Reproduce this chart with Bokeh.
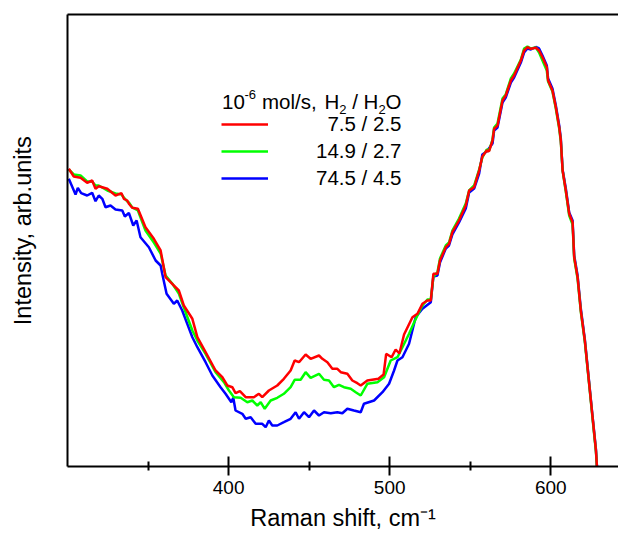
import math
from bokeh.plotting import figure
from bokeh.models import Range1d, FixedTicker, LinearAxis, Label, Legend, LegendItem
from bokeh.embed import file_html
from bokeh.resources import INLINE

FONT = "Liberation Sans"

# ---- data (Raman shift, cm-1 / intensity, arb. units) ----
x_red = [300.8, 303.9, 308.1, 312.2, 315.3, 317.4, 319.4, 324.7, 329.8, 333.5,
         335.0, 337.1, 338.1, 340.2, 343.7, 348.4, 353.6, 357.8, 360.9, 365.0,
         369.1, 372.2, 377.5, 380.6, 385.7, 391.9, 396.1, 399.2, 402.3, 404.3,
         407.0, 410.6, 415.7, 418.8, 420.9, 425.0, 430.2, 434.3, 438.5, 441.0,
         443.7, 447.8, 450.9, 456.1, 458.2, 461.3, 464.4, 467.5, 469.6, 473.7,
         476.8, 479.9, 482.0, 486.1, 493.0, 496.2, 497.8, 501.2, 503.7, 506.0,
         508.9, 514.1, 517.2, 520.3, 523.4, 525.5, 527.1, 529.6, 531.2, 534.8,
         536.8, 538.9, 543.0, 547.2, 549.3, 552.4, 555.5, 557.5, 560.2, 561.7,
         563.8, 564.8, 566.9, 570.0, 572.0, 575.2, 577.2, 581.4, 583.4, 585.5,
         587.6, 590.7, 592.7, 594.8, 597.5, 598.3, 601.0, 603.1, 605.2, 606.2,
         607.3, 609.3, 611.4, 613.5, 614.5, 616.6, 618.6, 621.1, 623.8, 625.9,
         628.0, 628.6, 629.2]
i_red = [297.7, 290.0, 288.7, 283.7, 286.0, 277.7, 280.3, 277.7, 271.0, 273.3,
         267.7, 266.0, 262.7, 258.7, 257.7, 239.3, 227.7, 216.0, 189.3, 182.7,
         176.0, 161.0, 147.7, 129.3, 114.3, 96.0, 89.3, 81.0, 79.3, 73.3,
         75.3, 69.3, 69.3, 72.7, 69.3, 76.0, 81.0, 87.7, 96.0, 106.0,
         104.3, 112.0, 107.7, 111.0, 107.7, 104.3, 97.7, 97.7, 94.3, 92.7,
         86.0, 83.3, 81.0, 86.0, 87.7, 92.0, 112.7, 109.3, 117.0, 113.0,
         132.0, 149.3, 152.7, 162.7, 166.0, 166.0, 192.7, 192.7, 206.0, 219.3,
         222.7, 234.3, 246.0, 261.0, 276.0, 279.3, 296.0, 310.0, 316.0, 315.3,
         326.0, 337.7, 341.0, 366.0, 371.0, 386.0, 391.0, 406.0, 416.0, 419.3,
         417.7, 418.7, 416.0, 409.3, 399.3, 386.0, 376.0, 359.3, 339.3, 326.0,
         296.0, 276.0, 252.7, 244.3, 209.3, 189.3, 156.0, 126.0, 82.7, 49.3,
         16.0, 0.3, -8.0]

x_green = [300.8, 303.9, 308.1, 312.2, 315.3, 317.4, 319.4, 324.7, 329.8, 333.5,
           335.0, 337.1, 338.1, 340.2, 343.7, 348.4, 353.6, 357.8, 360.9, 365.0,
           369.1, 372.2, 377.5, 380.6, 385.7, 391.9, 397.1, 400.2, 403.3, 407.5,
           411.6, 414.7, 417.8, 419.9, 422.4, 426.1, 430.2, 434.3, 438.5, 441.0,
           444.7, 447.8, 450.9, 456.1, 459.2, 462.3, 465.4, 468.5, 471.6, 475.8,
           478.9, 482.0, 486.1, 492.4, 496.5, 500.6, 504.8, 507.9, 512.0, 515.2,
           517.2, 520.3, 523.4, 525.5, 527.1, 529.6, 531.2, 534.8, 536.8, 538.9,
           543.0, 547.2, 549.3, 552.4, 555.5, 557.5, 560.2, 561.7, 563.8, 564.8,
           566.9, 570.0, 572.0, 575.2, 577.2, 581.4, 583.4, 585.5, 587.6, 590.7,
           592.7, 594.8, 597.5, 598.3, 601.0, 603.1, 605.2, 606.2, 607.3, 609.3,
           611.4, 613.5, 614.5, 616.6, 618.6, 621.1, 623.8, 625.9, 628.0, 628.6,
           629.2]
i_green = [297.0, 292.0, 291.0, 285.0, 285.0, 281.0, 281.0, 276.0, 273.0, 272.0,
           269.0, 265.0, 264.0, 259.0, 256.0, 236.0, 224.0, 213.0, 191.0, 183.0,
           173.0, 159.0, 136.0, 126.0, 112.7, 94.3, 84.3, 76.0, 69.3, 68.7,
           64.3, 66.0, 61.0, 64.3, 57.7, 66.0, 68.7, 72.7, 79.3, 86.7,
           86.7, 94.3, 88.7, 92.7, 86.7, 86.0, 79.3, 81.7, 79.3, 77.7,
           74.3, 71.0, 82.7, 84.3, 89.3, 106.0, 109.3, 119.3, 132.7, 144.3,
           151.0, 161.0, 167.0, 167.0, 190.0, 194.0, 208.0, 221.0, 224.0, 236.0,
           248.0, 263.0, 276.0, 281.0, 297.0, 309.0, 317.0, 316.0, 327.0, 339.0,
           343.0, 368.0, 372.0, 388.0, 393.0, 407.0, 418.0, 420.0, 418.0, 419.0,
           414.0, 406.0, 396.0, 385.0, 375.0, 358.0, 338.0, 325.0, 296.0, 275.0,
           251.0, 242.0, 208.0, 188.0, 155.0, 125.0, 82.0, 48.0, 15.0, 0.0,
           -8.0]

x_blue = [300.8, 305.0, 306.4, 308.5, 312.2, 315.3, 317.4, 319.4, 321.6, 323.6,
          326.7, 329.8, 334.0, 335.6, 338.1, 340.8, 342.9, 345.3, 350.5, 354.7,
          357.8, 358.8, 361.5, 366.0, 368.1, 371.2, 377.5, 380.6, 385.7, 389.9,
          395.0, 398.1, 401.7, 402.9, 404.3, 408.5, 410.6, 413.7, 416.8, 420.9,
          423.0, 425.0, 427.1, 430.2, 434.3, 438.5, 441.6, 443.7, 446.8, 449.9,
          453.0, 456.1, 459.2, 463.4, 467.5, 470.6, 473.7, 477.8, 482.0, 484.0,
          490.3, 495.5, 499.6, 502.7, 504.8, 507.9, 512.0, 516.1, 520.3, 525.5,
          527.1, 529.6, 531.2, 534.8, 536.8, 538.9, 543.0, 547.2, 549.3, 552.4,
          555.5, 557.5, 560.2, 563.8, 564.8, 566.9, 570.0, 572.0, 575.2, 577.2,
          581.4, 583.4, 585.5, 587.6, 590.7, 592.7, 594.8, 597.5, 598.3, 601.0,
          603.1, 605.2, 606.2, 607.3, 609.3, 611.4, 613.5, 614.5, 616.6, 618.6,
          621.1, 623.8, 625.9, 628.0, 628.6, 629.2]
i_blue = [287.7, 272.0, 278.7, 273.3, 271.0, 273.7, 265.3, 271.0, 267.7, 259.3,
          261.0, 257.0, 256.0, 250.0, 253.7, 241.0, 246.0, 229.3, 219.3, 206.0,
          201.0, 192.7, 172.7, 162.7, 166.0, 156.0, 129.3, 119.3, 104.3, 91.0,
          79.3, 72.7, 64.3, 68.7, 56.0, 52.7, 47.7, 49.3, 42.7, 42.7,
          39.3, 46.0, 41.0, 41.0, 44.3, 47.7, 54.3, 47.7, 54.3, 49.3,
          56.0, 51.0, 54.3, 53.3, 54.3, 53.3, 57.7, 56.0, 54.3, 62.7,
          66.0, 74.3, 82.7, 96.0, 106.0, 109.3, 122.7, 149.3, 157.7, 164.3,
          190.0, 191.0, 204.0, 218.0, 221.0, 232.0, 244.0, 258.0, 274.0, 278.0,
          293.0, 312.0, 315.0, 323.0, 336.0, 339.0, 364.0, 369.0, 384.0, 389.0,
          404.0, 414.0, 418.0, 417.0, 419.5, 418.0, 411.0, 401.0, 388.0, 378.0,
          361.0, 341.0, 328.0, 297.0, 278.0, 254.0, 246.0, 211.0, 191.0, 158.0,
          127.0, 84.0, 50.0, 17.0, 1.0, -8.0]

series_labels = ["\u20077.5 / 2.5", "14.9 / 2.7", "74.5 / 4.5"]
tick_values = [400, 500, 600]
minor_tick_values = [350, 450, 550]
x_title = "Raman shift, cm\u207b\u00b9"
y_title = "\u00a0\u00a0\u00a0Intensity, arb.units"

# ---- layout constants (canvas px) ----
FL, FT, FB = 67, 14, 466

p = figure(width=618, height=534, output_backend="svg", toolbar_location=None,
           tools="", x_range=Range1d(300, 642), y_range=Range1d(0, FB - FT),
           min_border_left=FL, min_border_right=0, min_border_top=FT,
           min_border_bottom=534 - FB)
p.grid.visible = False
p.outline_line_color = None
p.background_fill_color = "white"
p.border_fill_color = "white"

xa = p.xaxis[0]
xa.ticker = FixedTicker(ticks=tick_values, minor_ticks=minor_tick_values)
xa.axis_line_width = 2
xa.axis_line_color = "black"
xa.major_tick_line_width = 2
xa.minor_tick_line_width = 2
xa.major_tick_in = 10
xa.major_tick_out = 9
xa.minor_tick_in = 5
xa.minor_tick_out = 4
xa.major_label_text_font = FONT
xa.major_label_text_font_size = "19px"
xa.major_label_text_color = "black"
xa.major_label_standoff = 5
xa.axis_label = x_title
xa.axis_label_text_font = FONT
xa.axis_label_text_font_size = "23.5px"
xa.axis_label_text_font_style = "normal"
xa.axis_label_text_color = "black"
xa.axis_label_standoff = 8

ya = p.yaxis[0]
ya.ticker = FixedTicker(ticks=[])
ya.axis_line_width = 2
ya.axis_line_color = "black"
ya.major_tick_in = 0
ya.major_tick_out = 0
ya.minor_tick_in = 0
ya.minor_tick_out = 0
ya.major_label_text_font_size = "0px"
ya.axis_label = y_title
ya.axis_label_text_font = FONT
ya.axis_label_text_font_size = "23.5px"
ya.axis_label_text_font_style = "normal"
ya.axis_label_text_color = "black"
ya.axis_label_standoff = 32

top = LinearAxis(ticker=FixedTicker(ticks=[]), axis_line_width=2,
                 axis_line_color="black", major_tick_in=0, major_tick_out=0,
                 minor_tick_in=0, minor_tick_out=0,
                 major_label_text_font_size="0px")
p.add_layout(top, "above")

r_blue = p.line(x_blue, i_blue, line_color="#0000FF", line_width=2.5)
r_green = p.line(x_green, i_green, line_color="#00FF00", line_width=2.5)
r_red = p.line(x_red, i_red, line_color="#FF0000", line_width=2.5)

legend = Legend(items=[LegendItem(label=series_labels[0], renderers=[r_red]),
                       LegendItem(label=series_labels[1], renderers=[r_green]),
                       LegendItem(label=series_labels[2], renderers=[r_blue])],
                location=(221 - FL, FB - 190), padding=0, margin=0, spacing=3,
                glyph_width=47, glyph_height=20, label_height=20,
                label_standoff=48, border_line_color=None,
                background_fill_alpha=0,
                label_text_font=FONT, label_text_font_size="20.5px",
                label_text_color="black")
p.add_layout(legend)


def txt(s, cx, cy, size):
    p.add_layout(Label(x=cx - FL, y=FB - cy, x_units="screen", y_units="screen",
                       text=s, text_font=FONT, text_font_size=size,
                       text_color="black", text_align="left",
                       text_baseline="alphabetic"))


# legend title: 10^-6 mol/s,  H2 / H2O
txt("10", 221.5, 101, "20.5px")
txt("-6", 244.0, 94, "13px")
txt("mol/s,", 261.5, 101, "20.5px")
txt("H", 324.0, 101, "20.5px")
txt("2", 338.8, 109, "13px")
txt("/ H", 351.7, 101, "20.5px")
txt("2", 377.9, 109, "13px")
txt("O", 385.1, 101, "20.5px")

open("out.html", "w").write(file_html(p, INLINE))
